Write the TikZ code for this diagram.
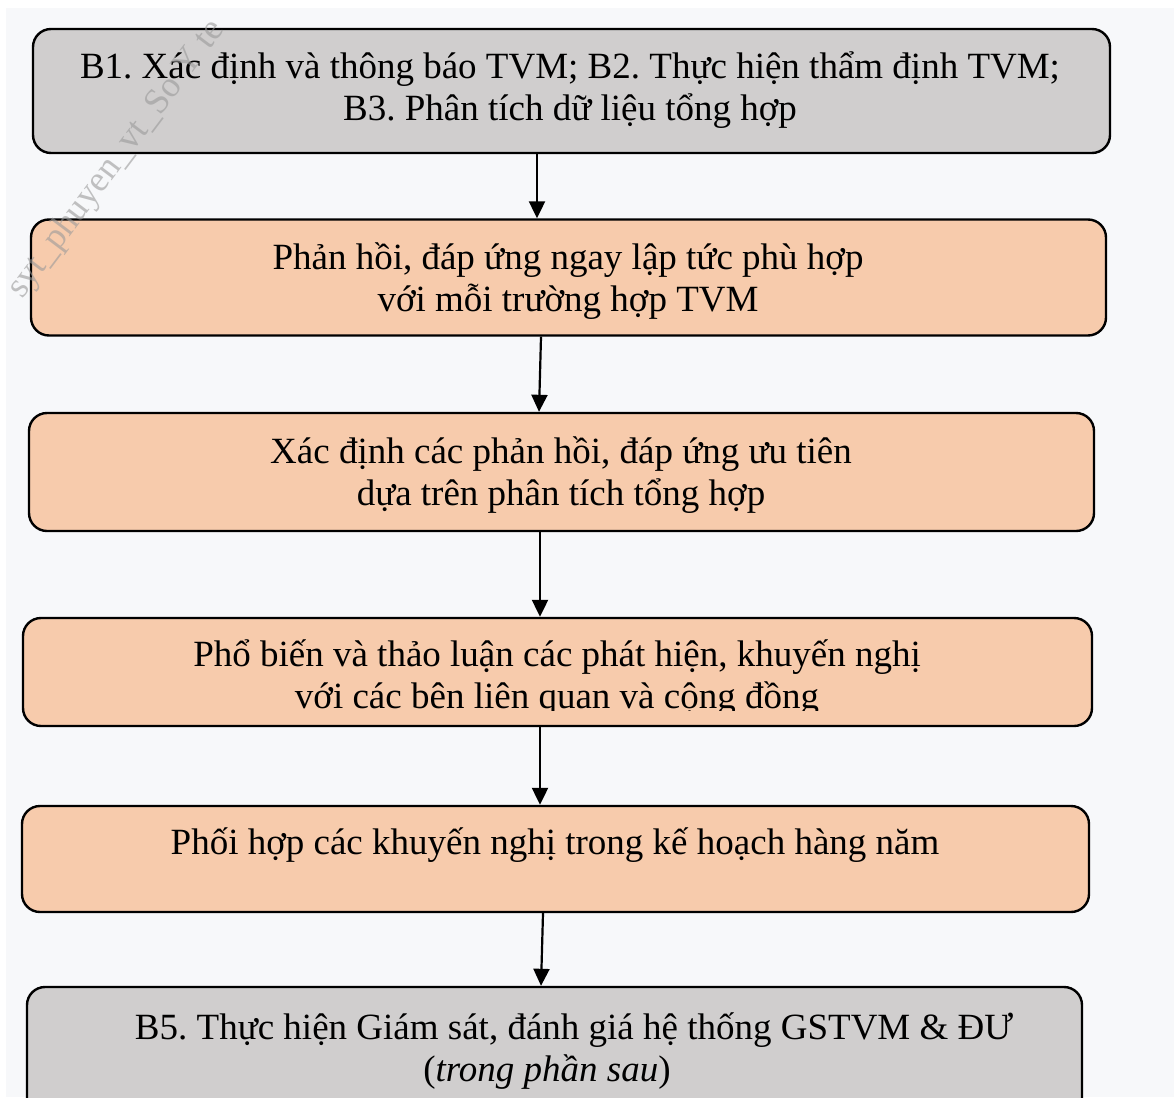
\documentclass[tikz,border=0pt]{standalone}
\usepackage{fontspec}
\setmainfont{Liberation Serif}
\usetikzlibrary{arrows.meta}
\frenchspacing
\definecolor{pagebg}{HTML}{F7F8FA}
\definecolor{stepgray}{HTML}{D0CECE}
\definecolor{steppeach}{HTML}{F7CBAC}
\definecolor{wmark}{HTML}{9A9A9A}
\tikzset{
  stepbox/.style={draw=black, line width=2.4pt, rounded corners=18pt, inner sep=0pt},
  graybox/.style={stepbox, fill=stepgray},
  peachbox/.style={stepbox, fill=steppeach},
  steptext/.style={anchor=base, align=center, inner sep=0pt,
    font=\fontsize{37}{42}\selectfont},
  arr/.style={line width=2.2pt, -{Triangle[length=17pt,width=16pt]}},
}
\begin{document}
\begin{tikzpicture}[x=1pt,y=-1pt]
\useasboundingbox (0,0) rectangle (1174,1097);
\clip (0,0) rectangle (1174,1097);
% page backdrop
\fill[white] (0,0) rectangle (1174,1097);
\fill[pagebg] (6,8) rectangle (1174,1097);

% step boxes
\node[graybox, minimum width=1077pt, minimum height=124pt] (b1) at (571.5,91) {};
\node[peachbox, minimum width=1075pt, minimum height=116pt] (b2) at (568.5,277.5) {};
\node[peachbox, minimum width=1065pt, minimum height=118pt] (b3) at (561.5,472) {};
\node[peachbox, minimum width=1069pt, minimum height=108pt] (b4) at (557.5,672) {};
\node[peachbox, minimum width=1067pt, minimum height=106pt] (b5) at (555.5,859) {};
\node[graybox, minimum width=1055pt, minimum height=160pt] (b6) at (554.5,1067) {};

% step texts (base anchor sits on the last line)
\node[steptext] (t1) at (570,121) {B1. Xác định và thông báo TVM; B2. Thực hiện thẩm định TVM;\\B3. Phân tích dữ liệu tổng hợp};
\node[steptext] (t2) at (568,311) {Phản hồi, đáp ứng ngay lập tức phù hợp\\với mỗi trường hợp TVM};
\node[steptext] (t3) at (561,505) {Xác định các phản hồi, đáp ứng ưu tiên\\dựa trên phân tích tổng hợp};
\begin{scope}
  \clip (b4.north west) rectangle (1174,710);
  \node[steptext] (t4) at (557,708) {Phổ biến và thảo luận các phát hiện, khuyến nghị\\với các bên liên quan và cộng đồng};
\end{scope}
\node[steptext] (t5) at (555,854) {Phối hợp các khuyến nghị trong kế hoạch hàng năm};
\node[steptext] (t6) at (574,1081) {B5.\ Thực hiện Giám sát, đánh giá hệ thống GSTVM \& ĐƯ\\\hspace*{-54pt}(\textit{trong phần sau})};

% connectors
\draw[arr] (b1.south -| 537,0) -- (b2.north -| 537,0);
\draw[arr] (b2.south -| 541,0) -- (b3.north -| 539,0);
\draw[arr] (b3.south -| 540,0) -- (b4.north -| 540,0);
\draw[arr] (b4.south -| 540,0) -- (b5.north -| 540,0);
\draw[arr] (b5.south -| 543,0) -- (b6.north -| 541,0);

% watermark
\node[text=wmark, opacity=0.6, rotate=53, anchor=base west, inner sep=0pt,
  font=\fontsize{36}{36}\selectfont] (wm) at (22,300) {syt\_phuyen\_vt\_So Y te};
\end{tikzpicture}
\end{document}
